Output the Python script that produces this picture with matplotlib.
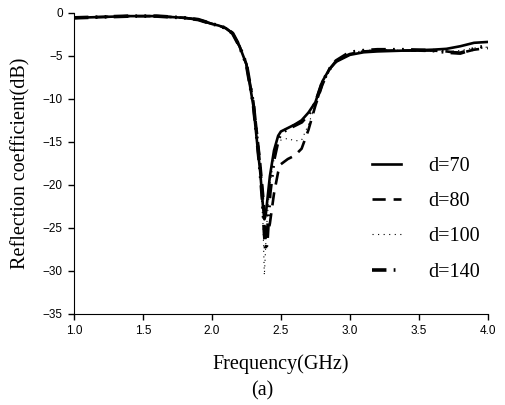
import matplotlib

matplotlib.use("Agg")
import matplotlib.pyplot as plt

# Reflection coefficient (dB) vs frequency (GHz)
FREQ = [1.0, 1.2, 1.4, 1.6, 1.8, 1.9, 2.0, 2.05, 2.1, 2.15, 2.2, 2.25, 2.3, 2.33,
        2.35, 2.37, 2.38, 2.39, 2.40, 2.42, 2.45, 2.48, 2.5, 2.55, 2.6, 2.65, 2.7,
        2.75, 2.8, 2.85, 2.9, 3.0, 3.1, 3.2, 3.4, 3.6, 3.7, 3.8, 3.9, 4.0]

D70 = [-0.6, -0.5, -0.4, -0.4, -0.6, -0.8, -1.3, -1.5, -1.8, -2.4, -3.9, -6.0, -10.8, -15.5,
       -18.5, -22.5, -24.0, -23.5, -22.0, -19.0, -16.0, -14.3, -13.8, -13.4, -13.0, -12.5, -11.6,
       -10.4, -8.0, -6.6, -5.7, -4.9, -4.6, -4.5, -4.4, -4.3, -4.2, -3.9, -3.5, -3.4]

D80 = [-0.6, -0.5, -0.4, -0.4, -0.6, -0.8, -1.3, -1.5, -1.8, -2.4, -3.9, -6.0, -10.3, -14.5,
       -17.5, -21.0, -23.0, -25.5, -26.0, -24.5, -21.0, -18.5, -17.6, -17.0, -16.6, -15.8, -13.6,
       -10.8, -8.4, -6.6, -5.6, -4.8, -4.5, -4.4, -4.4, -4.4, -4.5, -4.7, -4.3, -4.1]

D100 = [-0.6, -0.5, -0.4, -0.4, -0.6, -0.8, -1.3, -1.5, -1.8, -2.4, -3.9, -6.0, -10.8, -15.5,
        -19.0, -24.5, -30.5, -27.0, -24.0, -20.0, -17.0, -15.2, -14.8, -14.6, -14.9, -14.8, -13.0,
        -10.6, -8.2, -6.6, -5.6, -4.7, -4.4, -4.3, -4.4, -4.5, -4.5, -4.4, -4.1, -4.0]

D140 = [-0.6, -0.5, -0.4, -0.4, -0.6, -0.8, -1.3, -1.5, -1.8, -2.4, -3.9, -6.0, -10.6, -15.2,
        -18.5, -22.5, -25.5, -27.7, -26.5, -21.0, -17.0, -14.8, -14.0, -13.5, -13.1, -12.7, -11.8,
        -10.5, -8.1, -6.6, -5.6, -4.6, -4.4, -4.3, -4.3, -4.4, -4.6, -4.7, -4.2, -3.8]

LABELS = ["d=70", "d=80", "d=100", "d=140"]

plt.rcParams["font.family"] = ["Liberation Sans", "DejaVu Sans"]

fig = plt.figure(figsize=(5.05, 4.05), dpi=100)
ax = fig.add_axes([0.1465, 0.2247, 0.8195, 0.744])

ax.plot(FREQ, D70, color="black", lw=1.9, ls="-", label=LABELS[0])
ax.plot(FREQ, D80, color="black", lw=1.9, ls=(0, (5, 3)), label=LABELS[1])
ax.plot(FREQ, D100, color="black", lw=0.8, ls=(0, (1, 4)), label=LABELS[2])
ax.plot(FREQ, D140, color="black", lw=2.6, ls=(0, (4, 2, 0.5, 2, 0.5, 2)), label=LABELS[3])

ax.set_xlim(1.0, 4.0)
ax.set_ylim(-35, 0)
ax.set_xticks([1.0, 1.5, 2.0, 2.5, 3.0, 3.5, 4.0])
ax.set_xticklabels(["1.0", "1.5", "2.0", "2.5", "3.0", "3.5", "4.0"])
ax.set_yticks(range(-35, 1, 5))
ax.tick_params(direction="out", length=4, width=1, labelsize=8.5, pad=4)
ax.spines["top"].set_visible(False)
ax.spines["right"].set_visible(False)

serif = ["Liberation Serif", "DejaVu Serif"]
ax.set_xlabel("Frequency(GHz)", family=serif, fontsize=14.5, labelpad=12)
ax.set_ylabel("Reflection coefficient(dB)", family=serif, fontsize=14.5, labelpad=9)
fig.text(0.519, 0.034, "(a)", family=serif, fontsize=14.5, ha="center", va="center")

ax.legend(loc="upper left", bbox_to_anchor=(0.70, 0.548), frameon=False,
          prop={"family": serif, "size": 14.5}, handlelength=1.45, handletextpad=1.35,
          labelspacing=0.8, borderaxespad=0)

fig.savefig("out.png", dpi=100)
